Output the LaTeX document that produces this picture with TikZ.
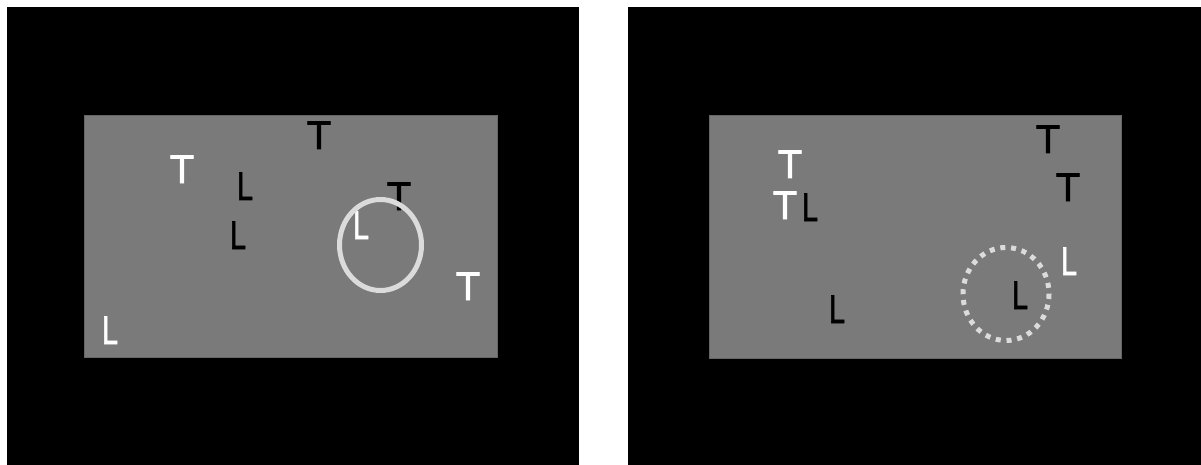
\documentclass[tikz,border=0pt]{standalone}
\usepackage{fontspec}
\setmainfont{Liberation Sans}
\newfontfamily\stimfont[FakeBold=1.5]{Liberation Sans}
\definecolor{field}{gray}{0.48}
\definecolor{ring}{gray}{0.86}
\begin{document}
\begin{tikzpicture}[x=1pt, y=-1pt,
  letter/.style={inner sep=0pt, anchor=base, font=\stimfont\fontsize{40}{40}\selectfont},
  lite/.style={letter, text=white},
  dark/.style={letter, text=black}]
  \useasboundingbox (0,0) rectangle (1201,465);

  % left display
  \fill[black] (7,7) rectangle (579,465);
  \draw[fill=field, draw=black!60, line width=0.8pt] (84,115) rectangle (497,357);
  \node[lite] (lT1) at (182,183) {T};
  \node[dark] (lL1) at (245,200) {\scalebox{0.72}[1]{L}};
  \node[dark] (lL2) at (238,249) {\scalebox{0.72}[1]{L}};
  \node[dark] (lT2) at (319,149) {T};
  \node[dark] (lT3) at (399,210) {T};
  \node[lite] (lL3) at (361,239) {\scalebox{0.72}[1]{L}};
  \node[lite] (lT4) at (468,300) {T};
  \node[lite] (lL4) at (110,344) {\scalebox{0.72}[1]{L}};
  % solid ring
  \draw[ring, line width=5pt] (380.5,245) ellipse (41 and 45.5);

  % right display
  \fill[black] (628,7) rectangle (1201,465);
  \draw[fill=field, draw=black!60, line width=0.8pt] (709,115) rectangle (1121,358);
  \node[lite] (rT1) at (790,178) {T};
  \node[lite] (rT2) at (785,219) {T};
  \node[dark] (rL1) at (810,221) {\scalebox{0.72}[1]{L}};
  \node[dark] (rT3) at (1048,153) {T};
  \node[dark] (rT4) at (1068,201) {T};
  \node[lite] (rL2) at (1069,275) {\scalebox{0.72}[1]{L}};
  \node[dark] (rL3) at (1020,309) {\scalebox{0.72}[1]{L}};
  \node[dark] (rL4) at (837,323) {\scalebox{0.72}[1]{L}};
  % dotted ring
  \draw[ring, line width=5pt, dash pattern=on 5pt off 5.8pt] (1006,294) ellipse (43 and 46.5);
\end{tikzpicture}
\end{document}
